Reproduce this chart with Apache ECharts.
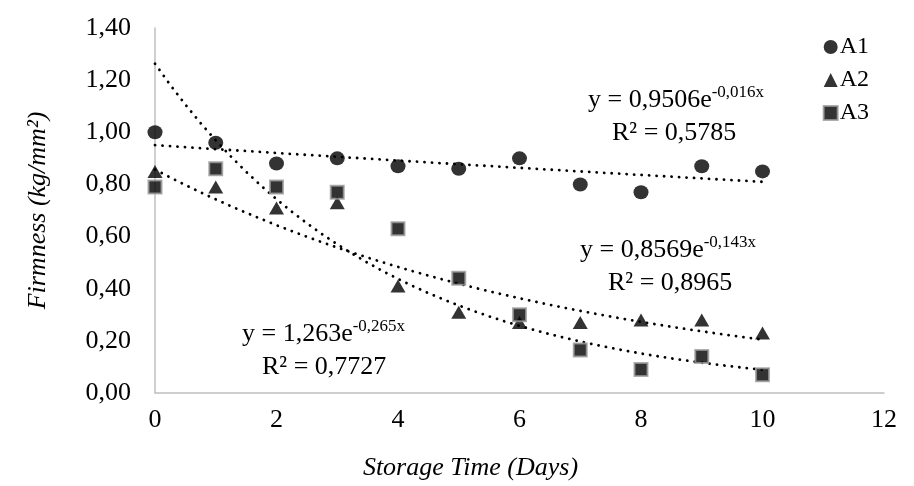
<!DOCTYPE html>
<html>
<head>
<meta charset="utf-8">
<script src="https://cdn.jsdelivr.net/npm/echarts@6/dist/echarts.min.js"></script>
<style>
html,body{margin:0;padding:0;background:#fff;}
#chart{width:914px;height:486px;}
</style>
</head>
<body>
<div id="chart"></div>
<script>
// data
var days = [0,1,2,3,4,5,6,7,8,9,10];
var a1 = [1.00,0.96,0.88,0.90,0.87,0.86,0.90,0.80,0.77,0.87,0.85];
var a2 = [0.85,0.79,0.71,0.73,0.41,0.31,0.27,0.27,0.28,0.28,0.23];
var a3 = [0.79,0.86,0.79,0.77,0.63,0.44,0.30,0.165,0.09,0.14,0.07];
var names = ['A1','A2','A3'];
// exponential trendline coefficients shown on the chart (y = a*e^(b*x))
var trendA = ['0,9506', '0,8569', '1,263'];
var trendB = ['-0,016', '-0,143', '-0,265'];
var trendR2 = ['0,5785', '0,8965', '0,7727'];

var FONT = '"Liberation Serif","Times New Roman",serif';

function num(s){
    return parseFloat(s.replace(',', '.'));
}

function pairs(ys){
    var out = [];
    for(var i = 0;i<days.length;i++){
        out.push([days[i], ys[i]]);
    }
    return out;
}

function trend(k){
    var a = num(trendA[k]), b = num(trendB[k]);
    var out = [];
    for(var x = 0;x<=10.0001;x+=0.25){
        out.push([x, a*Math.exp(b*x)]);
    }
    return out;
}

var myChart = echarts.init(document.getElementById('chart'));

var trendStyle = {
    color:'#000',
    width:2.8,
    type:[0.1,7.4],
    cap:'round'
};

var series = [];
for(var k = 0;k<3;k++){
    series.push({
        name:'trend'+k,
        type:'line',
        data:trend(k),
        showSymbol:false,
        silent:true,
        lineStyle:trendStyle,
        z:1
    });
}
series.push({
    name:'A1',
    type:'scatter',
    data:pairs(a1),
    symbol:'circle',
    symbolSize:[15,14],
    itemStyle:{color:'#000'},
    z:3
});
series.push({
    name:'A2',
    type:'scatter',
    data:pairs(a2),
    symbol:'triangle',
    symbolSize:[15,13],
    itemStyle:{color:'#000'},
    z:3
});
series.push({
    name:'A3',
    type:'scatter',
    data:pairs(a3),
    symbol:'rect',
    symbolSize:13,
    itemStyle:{color:'#000', borderColor:'#9a9a9a', borderWidth:2},
    z:3
});

var rich = {
    b:{fontFamily:FONT, fontSize:26, color:'#000', lineHeight:32},
    s:{fontFamily:FONT, fontSize:17, color:'#000', lineHeight:20, verticalAlign:'top'}
};

// equation + R² block, (x,y) = left / middle of the first line
function label(x, y, rx, k){
    return [
        {type:'text', x:x, y:y, z:10, style:{
            text:'{b|y = ' + trendA[k] + 'e}{s|' + trendB[k] + 'x}',
            rich:rich, verticalAlign:'middle', align:'left'}},
        {type:'text', x:rx, y:y+33, z:10, style:{
            text:'R² = ' + trendR2[k], font:'26px '+FONT, fill:'#000',
            verticalAlign:'middle', align:'left'}}
    ];
}

var option = {
    animation:false,
    legend:{
        data:names,
        orient:'vertical',
        right:40,
        top:30,
        itemGap:9,
        itemWidth:14,
        itemHeight:14,
        textStyle:{fontFamily:FONT, fontSize:24, color:'#000', padding:[0,0,0,-3]}
    },
    grid:{left:155, right:30, top:28, bottom:93},
    xAxis:{
        type:'value',
        min:0, max:12, interval:2,
        name:'Storage Time (Days)',
        nameLocation:'middle',
        nameGap:62,
        nameTextStyle:{fontFamily:FONT, fontSize:26, fontStyle:'italic', color:'#000', padding:[0,98,0,0]},
        axisLine:{lineStyle:{color:'#bfbfbf', width:1.5}},
        axisTick:{show:false},
        splitLine:{show:false},
        axisLabel:{fontFamily:FONT, fontSize:26, color:'#000', margin:14}
    },
    yAxis:{
        type:'value',
        min:0, max:1.4, interval:0.2,
        name:'Firmness (kg/mm²)',
        nameLocation:'middle',
        nameGap:104,
        nameTextStyle:{fontFamily:FONT, fontSize:26, fontStyle:'italic', color:'#000'},
        axisLine:{show:true, lineStyle:{color:'#bfbfbf', width:1.5}},
        axisTick:{show:false},
        splitLine:{show:false},
        axisLabel:{fontFamily:FONT, fontSize:26, color:'#000', margin:24,
            formatter:function(v){ return v.toFixed(2).replace('.', ','); }}
    },
    graphic:[].concat(label(588, 100, 612, 0), label(580, 250, 608, 1), label(242, 334, 262, 2)),
    series:series
};
myChart.setOption(option);
</script>
</body>
</html>
